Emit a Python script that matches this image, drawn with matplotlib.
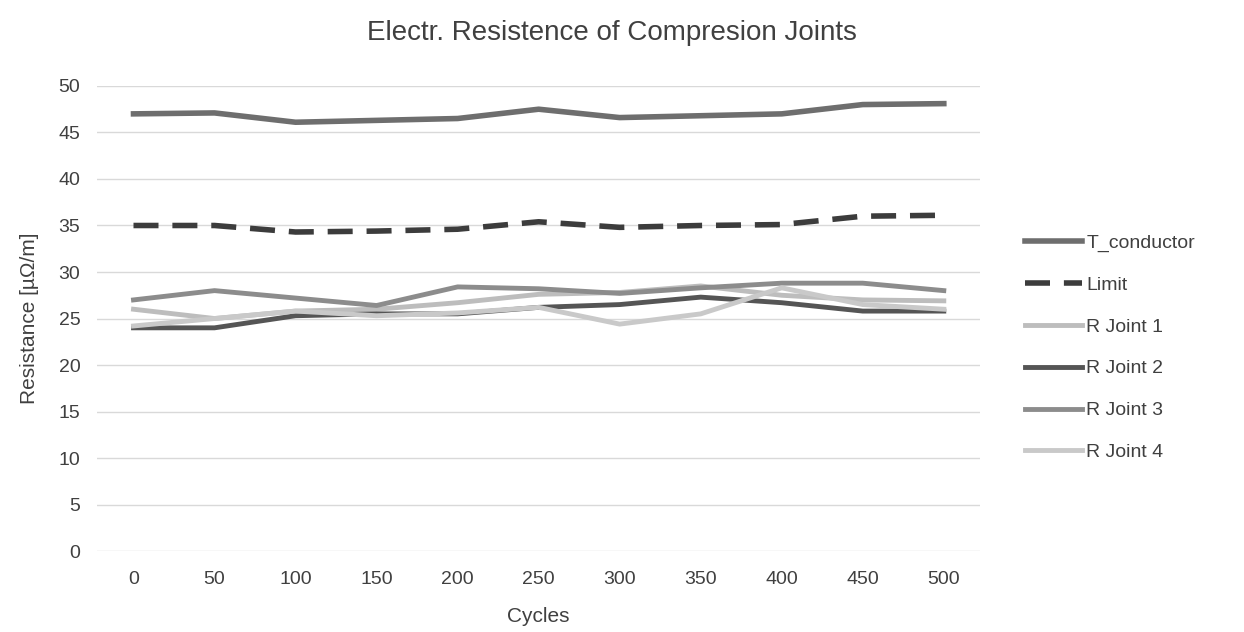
import numpy as np
import matplotlib.pyplot as plt

plt.rcParams['font.family'] = ['Liberation Sans', 'DejaVu Sans']

# Daten
cycles = [0, 50, 100, 150, 200, 250, 300, 350, 400, 450, 500]
t_conductor = [47.0, 47.1, 46.1, 46.3, 46.5, 47.5, 46.6, 46.8, 47.0, 48.0, 48.1]
limit = [35.0, 35.0, 34.3, 34.4, 34.6, 35.4, 34.8, 35.0, 35.1, 36.0, 36.1]
r_joint1 = [26.0, 25.0, 25.8, 26.0, 26.7, 27.6, 27.8, 28.5, 27.5, 27.0, 26.9]
r_joint2 = [24.0, 24.0, 25.3, 25.5, 25.5, 26.2, 26.5, 27.3, 26.7, 25.8, 25.8]
r_joint3 = [27.0, 28.0, 27.2, 26.4, 28.4, 28.2, 27.7, 28.3, 28.8, 28.8, 28.0]
r_joint4 = [24.2, 25.0, 25.8, 25.3, 25.6, 26.2, 24.4, 25.5, 28.3, 26.5, 26.0]

x = np.arange(len(cycles))

fig = plt.figure(figsize=(12.44, 6.32), dpi=100)
ax = fig.add_axes([0.078, 0.128, 0.71, 0.736])

ax.plot(x, t_conductor, color='#6e6e6e', lw=4, label='T_conductor')
ax.plot(x, limit, color='#3c3c3c', lw=4, ls=(0, (4.5, 2.5)), label='Limit')
ax.plot(x, r_joint1, color='#bdbdbd', lw=3.5, label='R Joint 1')
ax.plot(x, r_joint2, color='#555555', lw=3.5, label='R Joint 2')
ax.plot(x, r_joint3, color='#8c8c8c', lw=3.5, label='R Joint 3')
ax.plot(x, r_joint4, color='#c9c9c9', lw=3.5, label='R Joint 4')

ax.set_xlim(-0.45, len(cycles) - 0.55)
ax.set_ylim(0, 50)
ax.set_yticks(range(0, 51, 5))
ax.set_xticks(x)
ax.set_xticklabels([str(c) for c in cycles])
ax.tick_params(length=0, labelsize=14, colors='#404040', pad=14)
ax.tick_params(axis='y', pad=12)
ax.grid(axis='y', color='#d9d9d9', lw=1)
ax.set_axisbelow(True)
for s in ax.spines.values():
    s.set_visible(False)

ax.set_xlabel('Cycles', fontsize=15, color='#404040', labelpad=14)
ax.set_ylabel('Resistance [µΩ/m]', fontsize=15, color='#404040', labelpad=14)
fig.text(0.492, 0.948, 'Electr. Resistence of Compresion Joints',
         fontsize=20, color='#404040', ha='center', va='center')

fig.legend(loc='center left', bbox_to_anchor=(0.81, 0.45), frameon=False,
           fontsize=14, labelcolor='#404040', handlelength=2.9,
           handletextpad=0.25, labelspacing=1.25)

plt.savefig('out.png', dpi=100)
